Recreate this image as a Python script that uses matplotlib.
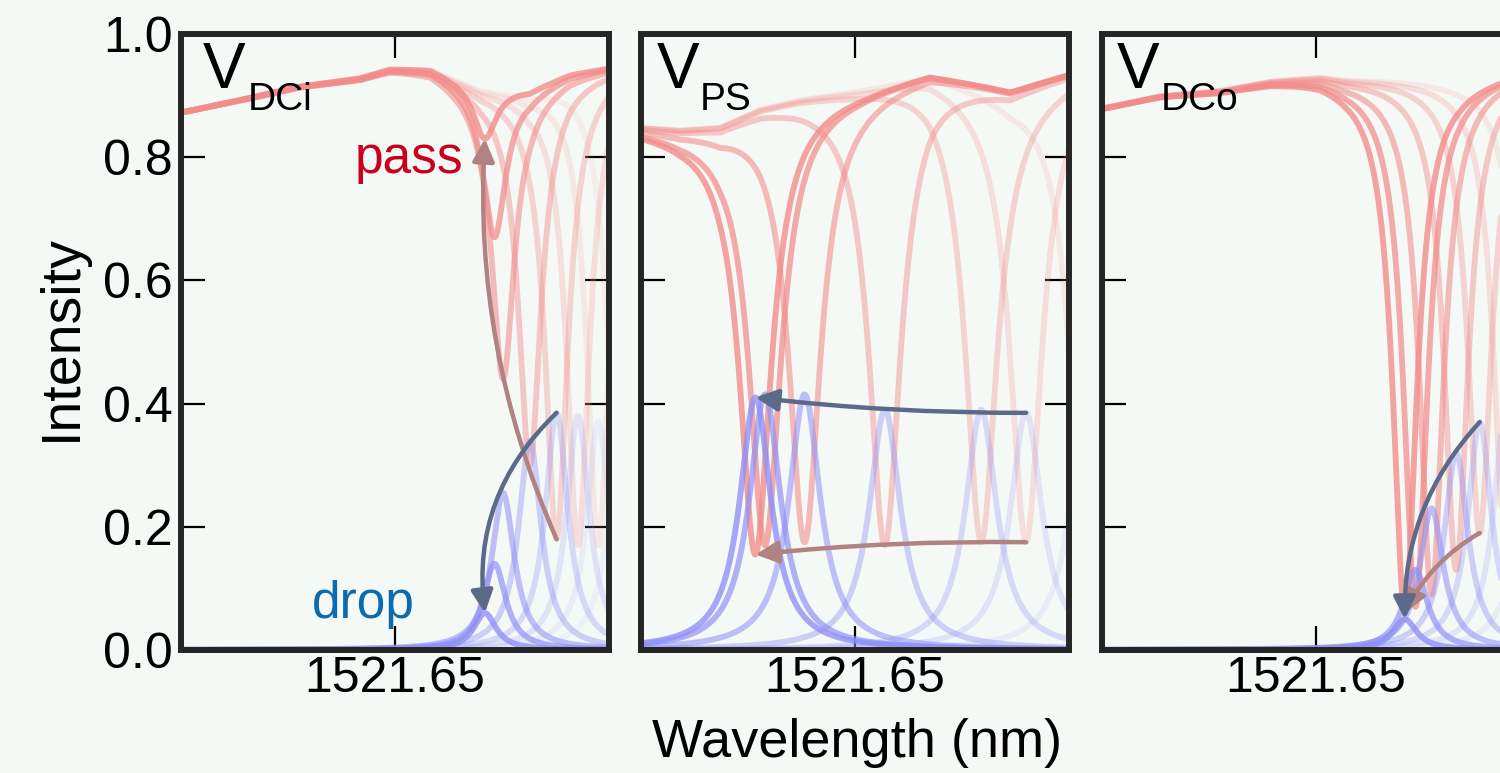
import numpy as np
import matplotlib.pyplot as plt
from matplotlib.patches import FancyArrowPatch

plt.rcParams['font.family'] = ['Liberation Sans', 'DejaVu Sans']

# axis range (nm) and the single labelled tick
wl_min, wl_max = 1521.45, 1521.85
wl_tick = 1521.65
y_ticks = [0.0, 0.2, 0.4, 0.6, 0.8, 1.0]

panel_labels = ['DCi', 'PS', 'DCo']

# ---- V_DCi panel: resonance centre, pass-port minimum, drop-port peak
dci_center = [1521.734, 1521.743, 1521.751, 1521.776, 1521.801, 1521.821, 1521.840, 1521.860]
dci_pass_min = [0.83, 0.67, 0.44, 0.30, 0.18, 0.17, 0.17, 0.17]
dci_drop_peak = [0.06, 0.14, 0.255, 0.34, 0.385, 0.38, 0.37, 0.37]
dci_width = 0.0128
dci_base_wl = [1521.45, 1521.505, 1521.56, 1521.617, 1521.645, 1521.683, 1521.702, 1521.73, 1521.776, 1521.814, 1521.85]
dci_base = [0.873, 0.893, 0.915, 0.929, 0.944, 0.945, 0.932, 0.915, 0.91, 0.935, 0.945]

# ---- V_PS panel
ps_center = [1521.557, 1521.566, 1521.603, 1521.678, 1521.768, 1521.810, 1521.865]
ps_pass_min = [0.155, 0.17, 0.175, 0.17, 0.175, 0.175, 0.17]
ps_drop_peak = [0.41, 0.415, 0.415, 0.39, 0.39, 0.385, 0.38]
ps_width = 0.0178
ps_base_wl = [1521.45, 1521.486, 1521.524, 1521.562, 1521.599, 1521.655, 1521.72, 1521.776, 1521.795, 1521.85]
ps_base = [0.849, 0.845, 0.85, 0.88, 0.896, 0.912, 0.938, 0.917, 0.909, 0.936]

# ---- V_DCo panel
dco_center = [1521.733, 1521.743, 1521.758, 1521.781, 1521.803, 1521.827, 1521.850]
dco_pass_min = [0.06, 0.07, 0.09, 0.13, 0.19, 0.17, 0.17]
dco_drop_peak = [0.05, 0.13, 0.23, 0.32, 0.37, 0.38, 0.38]
dco_width = 0.0135
dco_base_wl = [1521.45, 1521.504, 1521.56, 1521.607, 1521.654, 1521.677, 1521.785, 1521.85]
dco_base = [0.88, 0.9, 0.909, 0.925, 0.933, 0.929, 0.93, 0.945]

panels = [
    (dci_center, dci_pass_min, dci_drop_peak, dci_width, dci_base_wl, dci_base),
    (ps_center, ps_pass_min, ps_drop_peak, ps_width, ps_base_wl, ps_base),
    (dco_center, dco_pass_min, dco_drop_peak, dco_width, dco_base_wl, dco_base),
]

# which curves the arrows join (tail index -> head index 0), and their bend
arrow_tail = [4, 5, 4]
pass_rad = [-0.12, 0.03, 0.15]
drop_rad = [0.25, -0.03, 0.2]

# styles
bg = '#f5f9f6'
pass_color = '#f28c8a'
drop_color = '#8f8ff6'
pass_alpha = [0.8, 0.72, 0.58, 0.45, 0.35, 0.25, 0.15, 0.1]
drop_alpha = [0.78, 0.68, 0.55, 0.4, 0.3, 0.2, 0.12, 0.08]
pass_arrow_color = '#b08282'
drop_arrow_color = '#5b6a89'
tick_label_size = 36


def lorentz(x, c, g):
    return 1.0 / (1.0 + ((x - c) / g) ** 2)


def add_arrow(ax, start, end, rad, color):
    arrow = FancyArrowPatch(
        start,
        end,
        connectionstyle=f'arc3,rad={rad}',
        arrowstyle='-|>,head_length=0.45,head_width=0.22',
        mutation_scale=30,
        lw=3.2,
        color=color,
        shrinkA=0,
        shrinkB=0,
        zorder=6,
    )
    ax.add_patch(arrow)


fig = plt.figure(figsize=(15, 7.73), dpi=100, facecolor=bg)

ax_left = [0.1207, 0.4273, 0.7347]
ax_bottom = 0.1591
ax_w = 0.2853
ax_h = 0.7969

wl = np.linspace(wl_min, wl_max, 1200)

for k, (center, pmin, dpeak, width, bwl, bval) in enumerate(panels):
    ax = fig.add_axes([ax_left[k], ax_bottom, ax_w, ax_h])
    ax.set_facecolor(bg)

    base = np.interp(wl, bwl, bval)
    n = len(center)

    # faint curves first, strong ones on top
    for i in reversed(range(n)):
        b0 = np.interp(center[i], bwl, bval)
        lor = lorentz(wl, center[i], width)
        ax.plot(wl, base - (b0 - pmin[i]) * lor,
                color=pass_color, alpha=pass_alpha[i], lw=4.2,
                solid_capstyle='round', zorder=2)
    for i in reversed(range(n)):
        lor = lorentz(wl, center[i], width)
        ax.plot(wl, dpeak[i] * lor,
                color=drop_color, alpha=drop_alpha[i], lw=4.2,
                solid_capstyle='round', zorder=3)

    t = arrow_tail[k]
    add_arrow(ax, (center[t], pmin[t]), (center[0], pmin[0]),
              pass_rad[k], pass_arrow_color)
    add_arrow(ax, (center[t], dpeak[t]), (center[0], dpeak[0]),
              drop_rad[k], drop_arrow_color)

    ax.set_xlim(wl_min, wl_max)
    ax.set_ylim(0, 1)
    ax.set_xticks([wl_tick])
    ax.set_xticklabels([f'{wl_tick:.2f}'])
    ax.set_yticks(y_ticks)
    ax.set_yticklabels([f'{v:.1f}' for v in y_ticks])
    ax.tick_params(direction='in', length=17, width=1.6, color='black',
                   top=True, right=True, labelsize=tick_label_size)
    ax.tick_params(axis='x', pad=4)
    ax.tick_params(axis='y', pad=6, labelleft=(k == 0))

    for sp in ax.spines.values():
        sp.set_linewidth(4.3)
        sp.set_color('#262626')
        sp.set_zorder(10)

    v_x = [0.051, 0.037, 0.035][k]
    sub_x = [0.157, 0.138, 0.136][k]
    ax.text(v_x, 0.912, 'V', transform=ax.transAxes, fontsize=46,
            ha='left', va='baseline', zorder=8)
    ax.text(sub_x, 0.877, panel_labels[k], transform=ax.transAxes,
            fontsize=28, ha='left', va='baseline', zorder=8)

    if k == 0:
        ax.text(0.659, 0.774, 'pass', transform=ax.transAxes, fontsize=37,
                color='#c8001e', ha='right', va='baseline', zorder=8)
        ax.text(0.306, 0.052, 'drop', transform=ax.transAxes, fontsize=37,
                color='#0a6bb0', ha='left', va='baseline', zorder=8)

fig.text(0.0413, 0.5627, 'Intensity', rotation=90, ha='center',
         va='center', fontsize=40)
fig.text(0.5713, 0.0207, 'Wavelength (nm)', ha='center', va='baseline',
         fontsize=39)

fig.savefig('out.png', dpi=100, facecolor=bg)
